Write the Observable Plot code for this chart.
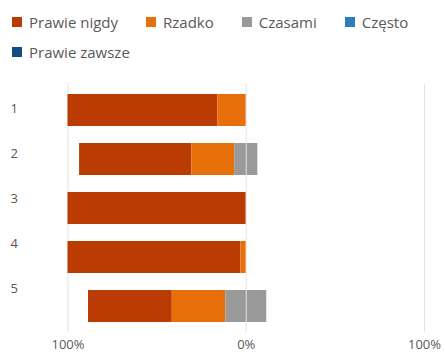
<!DOCTYPE html>
<html>
<head>
<meta charset="utf-8">
<script src="https://cdn.jsdelivr.net/npm/d3@7"></script>
<script src="https://cdn.jsdelivr.net/npm/@observablehq/plot@0.6"></script>
<style>
  html, body { margin: 0; padding: 0; background: #fff; }
  body { width: 445px; height: 352px; overflow: hidden; font-family: "Open Sans", "Noto Sans", sans-serif; }
  #legend { height: 70px; box-sizing: border-box; padding: 12px 0 0 12px; display: flex; flex-wrap: wrap; column-gap: 28px; row-gap: 11px; align-content: flex-start; width: 425px; }
  .item { display: flex; align-items: center; font-size: 15px; color: #595959; height: 19px; white-space: nowrap; }
  .sw { width: 10px; height: 10px; margin-right: 7px; }
</style>
</head>
<body>
<div id="legend"></div>
<div id="chart"></div>
<script>
const categories = ["Prawie nigdy", "Rzadko", "Czasami", "Często", "Prawie zawsze"];
const colors = ["#BA3C02", "#E8700A", "#999999", "#2E7DC0", "#114C82"];
const questions = ["1", "2", "3", "4", "5"];
const prawieNigdy = [84, 63, 100, 97, 47];
const rzadko = [16, 24, 0, 3, 30];
const czasami = [0, 13, 0, 0, 23];
const czesto = [0, 0, 0, 0, 0];
const prawieZawsze = [0, 0, 0, 0, 0];
const xTicks = [-100, 0, 100];

const series = [prawieNigdy, rzadko, czasami, czesto, prawieZawsze];

// legend
const legend = document.getElementById("legend");
categories.forEach((c, i) => {
  const it = document.createElement("div");
  it.className = "item";
  const sw = document.createElement("span");
  sw.className = "sw";
  sw.style.background = colors[i];
  it.appendChild(sw);
  it.appendChild(document.createTextNode(c));
  legend.appendChild(it);
});

// diverging segments: negatives (0,1), neutral centered (2), positives (3,4)
const rows = [];
questions.forEach((q, qi) => {
  const neg = prawieNigdy[qi] + rzadko[qi] + czasami[qi] / 2;
  let x = -neg;
  series.forEach((s, si) => {
    const v = s[qi];
    if (v > 0) rows.push({q, cat: categories[si], x1: x, x2: x + v});
    x += v;
  });
});

const chart = Plot.plot({
  width: 445,
  height: 282,
  marginTop: 14,
  marginBottom: 20,
  marginLeft: 67.5,
  marginRight: 21,
  style: {fontFamily: "'Open Sans', 'Noto Sans', sans-serif", fontSize: "13px", color: "#595959", background: "#fff"},
  x: {domain: [-100, 100], ticks: xTicks, tickFormat: d => Math.abs(d) + "%", label: null, tickSize: 0, tickPadding: 7},
  y: {domain: questions, paddingInner: 0.34, paddingOuter: 0.17, label: null, axis: null},
  color: {domain: categories, range: colors},
  marks: [
    Plot.ruleX(xTicks.filter(d => d !== 0), {stroke: "#e3e3e3", strokeWidth: 1}),
    Plot.barX(rows, {y: "q", x1: "x1", x2: "x2", fill: "cat"}),
    Plot.ruleX([0], {stroke: "#e3e3e3", strokeWidth: 1}),
    ...questions.map((q, i) => Plot.axisY([q], {tickSize: 0, tickPadding: 50, label: null, dy: -2 - 3.8 * i}))
  ]
});
document.getElementById("chart").appendChild(chart);
</script>
</body>
</html>
